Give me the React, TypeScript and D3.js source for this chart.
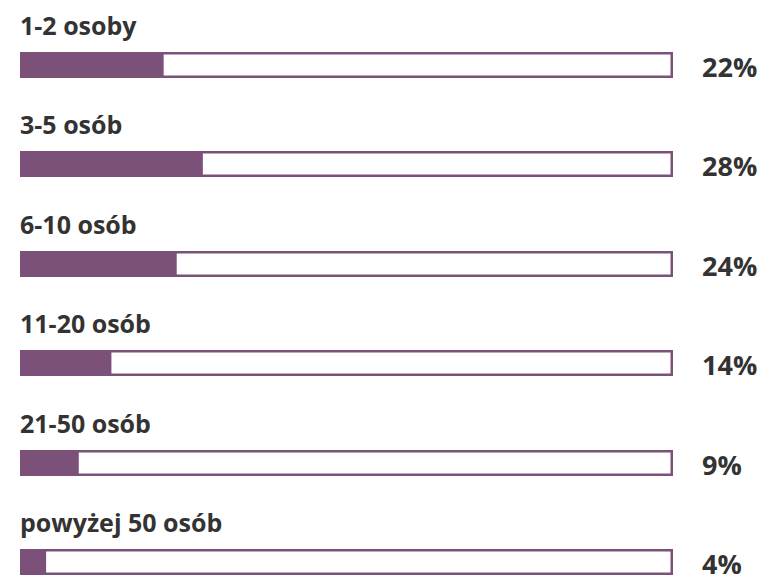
import React from "react";
import * as d3 from "d3";

const categories = ["1-2 osoby", "3-5 osób", "6-10 osób", "11-20 osób", "21-50 osób", "powyżej 50 osób"];
const values = [22, 28, 24, 14, 9, 4];
const valueLabels = ["22%", "28%", "24%", "14%", "9%", "4%"];

const W = 765;
const H = 575;
const barLeft = 20;
const barRight = 673;
const barH = 26;
const firstBarTop = 52;
const rowStep = 99.4;
const purple = "#7b5079";
const textColor = "#333333";
const font = "'Open Sans', sans-serif";

export default function App() {
  const x = d3.scaleLinear().domain([0, 100]).range([barLeft, barRight]);
  const y = d3
    .scaleLinear()
    .domain([0, 1])
    .range([firstBarTop, firstBarTop + rowStep]);
  return (
    <svg width={W} height={H} style={{ position: "absolute", left: 0, top: 0 }}>
      <rect width={W} height={H} fill="#fff" />
      {categories.map((c, i) => {
        const top = Math.round(y(i));
        return (
          <g key={c}>
            <text
              x={barLeft}
              y={top - 17}
              fontFamily={font}
              fontWeight={700}
              fontSize={25}
              fill={textColor}
            >
              {c}
            </text>
            <rect
              x={x(0) + 1.25}
              y={top + 1.25}
              width={x(100) - x(0) - 2.5}
              height={barH - 2.5}
              fill="#fff"
              stroke={purple}
              strokeWidth={2.5}
            />
            <rect x={x(0)} y={top} width={x(values[i]) - x(0)} height={barH} fill={purple} />
            <text
              x={702}
              y={top + 24.5}
              fontFamily={font}
              fontWeight={700}
              fontSize={27}
              fill={textColor}
            >
              {valueLabels[i]}
            </text>
          </g>
        );
      })}
    </svg>
  );
}
